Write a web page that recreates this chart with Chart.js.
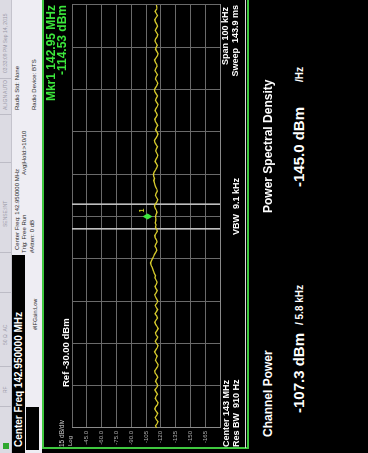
<!DOCTYPE html>
<html>
<head>
<meta charset="utf-8">
<script src="https://cdn.jsdelivr.net/npm/chart.js@4"></script>
<style>
  html, body { margin: 0; padding: 0; width: 368px; height: 453px; overflow: hidden; background: #000; }
  #page {
    position: absolute; left: 0; top: 0; width: 453px; height: 368px;
    background: #000; transform-origin: 0 0;
    transform: translate(0, 453px) rotate(-90deg);
    font-family: "Liberation Sans", Arial, sans-serif;
  }
  .t { position: absolute; white-space: nowrap; line-height: 1; }
  .b { font-weight: bold; }
  .box { position: absolute; }
  #hdr { position: absolute; left: 0; top: 0; width: 453px; height: 42px; background: #eeedf3; }
  #status { position: absolute; left: 0; top: 0; width: 453px; height: 11px; background: #dcdbe3; border-bottom: 1px solid #c4c3cc; }
  .st { color: #9a99a8; font-size: 5px; top: 3px; }
  .sep { position: absolute; top: 0; width: 1px; height: 11px; background: #bdbcc6; }
  .hd { color: #2a2a2a; font-size: 6px; }
  #chart { position: absolute; left: 0; top: 43px; }
</style>
</head>
<body>
<div id="page">
  <div id="hdr">
    <div id="status">
      <div class="box" style="left:4px;top:3px;width:6px;height:6px;background:#2fa82f"></div>
      <div class="sep" style="left:46px"></div>
      <div class="sep" style="left:86px"></div>
      <div class="sep" style="left:160px"></div>
      <div class="sep" style="left:200px"></div>
      <div class="sep" style="left:290px"></div>
      <div class="sep" style="left:338px"></div>
      <div class="sep" style="left:374px"></div>
      <span class="t st" style="left:60px">RF</span>
      <span class="t st" style="left:108px">50 &Omega;&nbsp;&nbsp;AC</span>
      <span class="t st" style="left:226px">SENSE:INT</span>
      <span class="t st" style="left:343px">ALIGN AUTO</span>
      <span class="t st" style="left:380px">03:33:09 PM Sep 14, 2015</span>
    </div>
    <div class="box" style="left:0;top:12px;width:198px;height:13px;background:#000"></div>
    <span class="t b" style="left:6px;top:13.5px;font-size:10px;color:#fff">Center Freq 142.950000 MHz</span>
    <span class="t hd" style="left:203px;top:13.5px">Center Freq: 142.950000 MHz</span>
    <span class="t hd" style="left:343px;top:13.5px">Radio Std: None</span>
    <span class="t hd" style="left:200px;top:21px">Trig: Free Run</span>
    <span class="t hd" style="left:278px;top:21px">Avg|Hold:&gt;10/10</span>
    <span class="t hd" style="left:200px;top:29px">#Atten: 0 dB</span>
    <span class="t hd" style="left:343px;top:31px">Radio Device: BTS</span>
    <span class="t hd" style="left:123px;top:33px;font-size:5.5px">#IFGain:Low</span>
    <div class="box" style="left:3px;top:26px;width:43px;height:13px;background:#000"></div>
  </div>

  <canvas id="chart" width="453" height="205"></canvas>

  <div class="box" style="left:5px;top:42px;width:448px;height:2px;background:#3fc83f"></div>
  <div class="box" style="left:4px;top:42px;width:2px;height:207px;background:#3fc83f"></div>
  <div class="box" style="left:5px;top:245px;width:448px;height:1px;background:#d8d8d8"></div>
  <div class="box" style="left:5px;top:247px;width:448px;height:2px;background:#3fc83f"></div>

  <span class="t b" style="right:5px;top:45px;font-size:12px;color:#3ce63c">Mkr1 142.95 MHz</span>
  <span class="t b" style="right:5px;top:56px;font-size:12px;color:#3ce63c">-114.53 dBm</span>
  <span class="t b" style="left:66px;top:61px;font-size:9.5px;color:#fff">Ref -30.00 dBm</span>
  <span class="t" style="left:6px;top:59px;font-size:6.5px;color:#ccc">15 dB/div</span>
  <span class="t" style="left:7px;top:66.5px;font-size:6px;color:#ccc">Log</span>

  <span class="t b" style="left:6px;top:222px;font-size:9px;color:#fff">Center 143 MHz</span>
  <span class="t b" style="left:6px;top:232px;font-size:9px;color:#fff">Res BW&nbsp;&nbsp;910 Hz</span>
  <span class="t b" style="left:218px;top:232px;font-size:9px;color:#fff">VBW&nbsp;&nbsp;9.1 kHz</span>
  <span class="t b" style="right:7px;top:221px;font-size:9px;color:#fff">Span 100 kHz</span>
  <span class="t b" style="right:5px;top:231px;font-size:9px;color:#fff">Sweep&nbsp;&nbsp;143.9 ms</span>

  <span class="t b" style="left:16px;top:262px;font-size:12px;color:#fff">Channel Power</span>
  <span class="t b" style="left:40px;top:291px;font-size:15px;color:#fff">-107.3 dBm</span>
  <span class="t b" style="left:128px;top:295px;font-size:10px;color:#fff">/ 5.8 kHz</span>
  <span class="t b" style="left:240px;top:262px;font-size:12px;color:#fff">Power Spectral Density</span>
  <span class="t b" style="left:266px;top:291px;font-size:15px;color:#fff">-145.0 dBm</span>
  <span class="t b" style="left:371px;top:295px;font-size:10px;color:#fff">/Hz</span>
</div>

<script>
// sweep settings
const spanKHz = 100;
const traceStepKHz = 0.5;
const refLevel = -30;
const bottomLevel = -180;
const dbPerDiv = 15;

// y tick labels as shown on the analyzer
const tickValues = [-45, -60, -75, -90, -105, -120, -135, -150, -165];
const tickLabels = ['-45.0', '-60.0', '-75.0', '-90.0', '-105', '-120', '-135', '-150', '-165'];

// channel power integration band
const chanCenterKHz = 50;
const chanBwKHz = 5.8;

// marker 1
const mkrKHz = 50;
const mkrDbm = -114.53;

// trace, dBm, one value every 0.5 kHz from 142.900 MHz
const traceDbm = [
  -115.8,-114.6,-116.2,-117.1,-115.4,-114.3,-115.9,-116.8,-115.2,-113.9,
  -114.8,-116.5,-117.3,-115.7,-114.4,-115.1,-116.6,-115.3,-114.0,-115.6,
  -117.0,-116.1,-114.7,-115.5,-116.9,-115.8,-114.2,-113.8,-115.3,-116.7,
  -117.2,-115.9,-114.6,-115.4,-116.3,-114.9,-113.7,-115.0,-116.4,-117.1,
  -115.6,-114.3,-115.8,-116.9,-115.1,-114.5,-116.0,-117.3,-116.2,-114.8,
  -113.9,-115.2,-116.6,-115.7,-114.1,-115.5,-116.8,-115.4,-114.4,-115.9,
  -117.0,-115.8,-114.6,-113.8,-115.3,-116.5,-115.0,-114.2,-115.6,-116.3,
  -115.1,-114.0,-114.6,-113.5,-112.8,-112.0,-111.2,-110.1,-109.6,-110.5,
  -111.4,-112.6,-113.5,-114.8,-115.9,-115.2,-114.1,-115.0,-116.2,-115.5,
  -114.3,-113.9,-115.1,-116.4,-115.7,-114.6,-115.3,-114.2,-114.9,-115.1,
  -114.5,
  -115.2,-116.1,-115.4,-114.3,-113.6,-114.8,-116.0,-116.9,-115.6,-114.5,
  -115.3,-116.5,-115.9,-114.7,-114.0,-113.4,-112.9,-113.6,-112.7,
  -112.4,-113.3,-114.6,-115.8,-116.7,-115.5,-114.2,-115.0,-116.3,-117.0,
  -115.9,-114.8,-115.6,-116.6,-115.2,-114.1,-113.6,-115.0,-116.2,-117.1,
  -116.0,-114.7,-115.4,-116.8,-115.7,-114.4,-113.9,-115.3,-116.5,-115.6,
  -114.2,-115.0,-116.4,-117.2,-115.8,-114.6,-115.5,-116.7,-115.3,-114.0,
  -113.5,-114.8,-116.1,-117.0,-115.9,-114.5,-115.2,-116.6,-115.4,-114.1,
  -114.9,-116.3,-115.7,-114.4,-113.7,-115.1,-116.5,-117.3,-116.0,-114.7,
  -115.3,-116.4,-115.1,-114.0,-114.8,-116.2,-116.9,-115.6,-114.3,-115.5,
  -116.7,-115.8,-114.5,-113.9,-115.2,-116.6,-115.4,-114.2,-115.7,-116.1,
  -115.5
];

const tracePoints = traceDbm.map((v, i) => ({ x: i * traceStepKHz, y: v }));
const chanLo = chanCenterKHz - chanBwKHz / 2;
const chanHi = chanCenterKHz + chanBwKHz / 2;

const markerPlugin = {
  id: 'marker',
  afterDatasetsDraw(chart) {
    const ctx = chart.ctx;
    const px = chart.scales.x.getPixelForValue(mkrKHz);
    const py = chart.scales.y.getPixelForValue(mkrDbm) - 8;
    ctx.save();
    ctx.fillStyle = '#3ee83e';
    ctx.beginPath();
    ctx.moveTo(px, py - 5);
    ctx.lineTo(px + 3, py);
    ctx.lineTo(px, py + 5);
    ctx.lineTo(px - 3, py);
    ctx.closePath();
    ctx.fill();
    ctx.fillStyle = '#c8d020';
    ctx.font = 'bold 7px "Liberation Sans", Arial';
    ctx.textAlign = 'left';
    ctx.textBaseline = 'bottom';
    ctx.fillText('1', px + 4, py - 2);
    ctx.restore();
  }
};

new Chart(document.getElementById('chart'), {
  type: 'line',
  data: {
    datasets: [
      {
        data: tracePoints,
        borderColor: '#d6ca2c',
        borderWidth: 1.3,
        pointRadius: 0,
        tension: 0
      },
      {
        data: [{ x: chanLo, y: refLevel }, { x: chanLo, y: bottomLevel }],
        borderColor: '#c4c4c4',
        borderWidth: 1,
        pointRadius: 0
      },
      {
        data: [{ x: chanHi, y: refLevel }, { x: chanHi, y: bottomLevel }],
        borderColor: '#c4c4c4',
        borderWidth: 1,
        pointRadius: 0
      }
    ]
  },
  options: {
    responsive: false,
    animation: false,
    layout: { padding: { top: 29, right: 5, bottom: 28, left: 0 } },
    plugins: { legend: { display: false }, tooltip: { enabled: false } },
    scales: {
      x: {
        type: 'linear',
        min: 0,
        max: spanKHz,
        ticks: { display: false, stepSize: spanKHz / 10 },
        grid: { color: '#6a6a6a', drawTicks: false },
        border: { color: '#8a8a8a' },
        afterFit: s => { s.height = 0; }
      },
      y: {
        min: bottomLevel,
        max: refLevel,
        ticks: {
          stepSize: dbPerDiv,
          padding: 3,
          color: '#a8a8a8',
          font: { size: 6, family: 'Liberation Sans' },
          callback: v => {
            const i = tickValues.indexOf(v);
            return i >= 0 ? tickLabels[i] : '';
          }
        },
        grid: { color: '#6a6a6a', drawTicks: false },
        border: { color: '#8a8a8a' },
        afterFit: s => { s.width = 25; }
      }
    }
  },
  plugins: [markerPlugin]
});
</script>
</body>
</html>
